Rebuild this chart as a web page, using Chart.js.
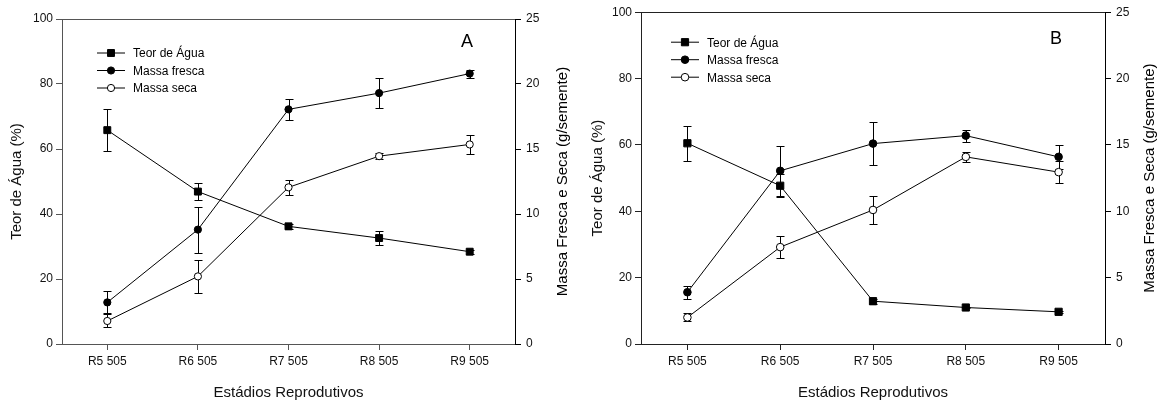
<!DOCTYPE html>
<html>
<head>
<meta charset="utf-8">
<script src="https://cdn.jsdelivr.net/npm/chart.js@4/dist/chart.umd.min.js"></script>
<style>
  body { margin: 0; background: #fff; }
  #wrap { position: relative; width: 1157px; height: 405px; }
  canvas { position: absolute; top: 0; }
</style>
</head>
<body>
<div id="wrap">
  <canvas id="chartA" width="578" height="405" style="left:0px"></canvas>
  <canvas id="chartB" width="579" height="405" style="left:578px"></canvas>
</div>
<script>
// categories
var stages = ["R5 505", "R6 505", "R7 505", "R8 505", "R9 505"];

// Panel A
var teorA = [65.8, 46.9, 36.2, 32.6, 28.4];
var teorErrA = [6.4, 2.6, 0.8, 2.2, 0.6];
var frescaA = [3.2, 8.8, 18.05, 19.3, 20.8];
var frescaErrA = [0.85, 1.77, 0.8, 1.15, 0.3];
var secaA = [1.77, 5.2, 12.05, 14.45, 15.35];
var secaErrA = [0.5, 1.3, 0.6, 0.25, 0.7];

// Panel B
var teorB = [60.5, 47.7, 12.9, 11.0, 9.7];
var teorErrB = [5.2, 3.5, 0.7, 0.3, 0.3];
var frescaB = [3.9, 13.05, 15.1, 15.7, 14.1];
var frescaErrB = [0.5, 1.9, 1.6, 0.45, 0.9];
var secaB = [2.0, 7.3, 10.1, 14.1, 12.95];
var secaErrB = [0.3, 0.85, 1.07, 0.4, 0.85];

var seriesNames = ["Teor de Água", "Massa fresca", "Massa seca"];
var FONT = "'Liberation Sans', Arial, sans-serif";

// error bars under the markers
var errorBars = {
    id: 'errorBars',
    beforeDatasetsDraw(chart) {
        var ctx = chart.ctx;
        chart.data.datasets.forEach(function (ds, i) {
            if (!ds.errors) return;
            var meta = chart.getDatasetMeta(i);
            var ys = chart.scales[ds.yAxisID];
            meta.data.forEach(function (pt, j) {
                var x = Math.round(pt.x) + 0.5;
                var top = Math.round(ys.getPixelForValue(ds.data[j] + ds.errors[j])) + 0.5;
                var bot = Math.round(ys.getPixelForValue(ds.data[j] - ds.errors[j])) + 0.5;
                ctx.save();
                ctx.strokeStyle = '#000';
                ctx.lineWidth = 1;
                ctx.beginPath();
                ctx.moveTo(x, top); ctx.lineTo(x, bot);
                ctx.moveTo(x - 4, top); ctx.lineTo(x + 4, top);
                ctx.moveTo(x - 4, bot); ctx.lineTo(x + 4, bot);
                ctx.stroke();
                ctx.restore();
            });
        });
    }
};

function marker(ctx, style, fill, r, x, y) {
    ctx.fillStyle = fill;
    ctx.strokeStyle = '#000';
    ctx.lineWidth = 1;
    ctx.beginPath();
    if (style == 'rect') {
        var s = r * Math.SQRT1_2;
        ctx.rect(x - s, y - s, 2 * s, 2 * s);
    } else {
        ctx.arc(x, y, r, 0, Math.PI * 2);
    }
    ctx.fill();
    ctx.stroke();
}

// frame top line, legend with line+marker, panel letter, right axis title
var extras = {
    id: 'extras',
    afterDraw(chart, args, o) {
        var ctx = chart.ctx, a = chart.chartArea;
        ctx.save();
        // top frame line
        ctx.strokeStyle = o.frameColor;
        ctx.lineWidth = 1;
        ctx.beginPath();
        ctx.moveTo(a.left, Math.round(a.top) + 0.5);
        ctx.lineTo(a.right, Math.round(a.top) + 0.5);
        ctx.stroke();

        // legend
        ctx.font = '12px ' + FONT;
        ctx.textBaseline = 'middle';
        ctx.textAlign = 'left';
        chart.data.datasets.forEach(function (ds, i) {
            var y = a.top + o.legendY + i * o.legendRow;
            var x0 = a.left + o.legendX;
            ctx.strokeStyle = '#000';
            ctx.beginPath();
            ctx.moveTo(x0, y); ctx.lineTo(x0 + 28, y);
            ctx.stroke();
            marker(ctx, ds.pointStyle, ds.pointBackgroundColor, ds.pointRadius, x0 + 14, y);
            ctx.fillStyle = '#000';
            ctx.fillText(ds.label, x0 + 36, y + 1);
        });

        // panel letter
        ctx.font = '18px ' + FONT;
        ctx.textAlign = 'center';
        ctx.fillStyle = '#000';
        ctx.fillText(o.letter, a.right - o.letterDx, a.top + o.letterDy);

        // right axis title, reading bottom to top
        ctx.font = '15px ' + FONT;
        ctx.translate(a.right + o.rightTitleDx, (a.top + a.bottom) / 2);
        ctx.rotate(-Math.PI / 2);
        ctx.fillText(o.rightTitle, 0, 0);
        ctx.restore();
    }
};

function makeDatasets(teor, teorErr, fresca, frescaErr, seca, secaErr, r) {
    return [
        { label: seriesNames[0], data: teor, errors: teorErr, yAxisID: 'y',
          pointStyle: 'rect', pointRadius: r + 1.3, pointBackgroundColor: '#000' },
        { label: seriesNames[1], data: fresca, errors: frescaErr, yAxisID: 'y1',
          pointStyle: 'circle', pointRadius: r, pointBackgroundColor: '#000' },
        { label: seriesNames[2], data: seca, errors: secaErr, yAxisID: 'y1',
          pointStyle: 'circle', pointRadius: r, pointBackgroundColor: '#fff' }
    ].map(function (d) {
        d.borderColor = '#000';
        d.borderWidth = 1;
        d.pointBorderColor = '#000';
        d.pointBorderWidth = 1;
        d.pointHoverRadius = d.pointRadius;
        d.fill = false;
        d.tension = 0;
        return d;
    });
}

function MakePanel(id, datasets, p) {
    return new Chart(document.getElementById(id), {
        type: 'line',
        data: { labels: stages, datasets: datasets },
        plugins: [errorBars, extras],
        options: {
            responsive: false,
            animation: false,
            layout: { padding: { top: p.top, left: 0, right: 0, bottom: 0 } },
            plugins: {
                legend: { display: false },
                tooltip: { enabled: false },
                extras: p.extras
            },
            scales: {
                x: {
                    offset: true,
                    afterFit: function (s) { s.height = 405 - p.bottom; },
                    border: { display: true, color: p.frame, width: 1 },
                    grid: { drawOnChartArea: false, color: p.frame, tickLength: 6 },
                    ticks: { color: '#111', padding: 4, font: { family: FONT, size: 12 } },
                    title: { display: true, text: 'Estádios Reprodutivos', color: '#111',
                             font: { family: FONT, size: 15 }, padding: { top: 0, bottom: 3 } }
                },
                y: {
                    position: 'left',
                    min: 0, max: 100,
                    afterFit: function (s) { s.width = p.leftW; },
                    border: { display: true, color: p.frame, width: 1 },
                    grid: { drawOnChartArea: false, color: p.frame, tickLength: 6 },
                    ticks: { stepSize: 20, color: '#111', padding: 3, font: { family: FONT, size: 12 } },
                    title: { display: true, text: 'Teor de Água (%)', color: '#111',
                             font: { family: FONT, size: 15 }, padding: { top: p.leftTitlePad, bottom: 0 } }
                },
                y1: {
                    position: 'right',
                    min: 0, max: 25,
                    afterFit: function (s) { s.width = p.rightW; },
                    border: { display: true, color: '#000', width: 1 },
                    grid: { drawOnChartArea: false, color: '#000', tickLength: 6 },
                    ticks: { stepSize: 5, color: '#111', padding: 5, font: { family: FONT, size: 12 } }
                }
            }
        }
    });
}

MakePanel('chartA', makeDatasets(teorA, teorErrA, frescaA, frescaErrA, secaA, secaErrA, 3.6), {
    top: 19, bottom: 344, leftW: 62, rightW: 63, leftTitlePad: 8, frame: '#555',
    extras: { frameColor: '#555', legendX: 35, legendY: 34, legendRow: 17.5,
              letter: 'A', letterDx: 48, letterDy: 23,
              rightTitle: 'Massa Fresca e Seca (g/semente)', rightTitleDx: 48 }
});

MakePanel('chartB', makeDatasets(teorB, teorErrB, frescaB, frescaErrB, secaB, secaErrB, 3.8), {
    top: 11, bottom: 344, leftW: 63, rightW: 52, leftTitlePad: 11, frame: '#222',
    extras: { frameColor: '#222', legendX: 30, legendY: 30, legendRow: 17.5,
              letter: 'B', letterDx: 49, letterDy: 27,
              rightTitle: 'Massa Fresca e Seca (g/semente)', rightTitleDx: 45 }
});
</script>
</body>
</html>
